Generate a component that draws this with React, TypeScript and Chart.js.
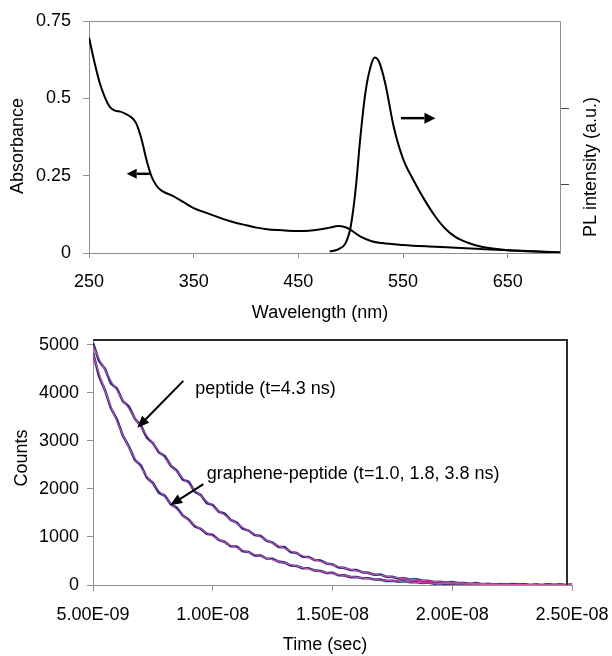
import React, { useEffect, useRef } from 'react';
import { Chart, registerables } from 'chart.js';

Chart.register(...registerables);

// ---------- Top panel: absorbance + PL ----------
const WAVELENGTH_TICKS = [250, 350, 450, 550, 650];
const ABSORBANCE_TICKS = [0, 0.25, 0.5, 0.75];
const PL_TICKS = [0.2205, 0.468];

const ABS_NM = [250, 255, 260, 265, 270, 275, 280, 285, 290, 295, 300, 305, 310, 315, 320, 330, 340, 350, 360, 370, 380, 390, 400, 410, 420, 430, 440, 450, 460, 470, 480, 488, 495, 500, 505, 510, 520, 530, 550, 575, 600, 625, 650, 675, 700];
const ABS_VAL = [0.697, 0.62, 0.553, 0.505, 0.472, 0.46, 0.457, 0.45, 0.44, 0.42, 0.37, 0.3, 0.245, 0.215, 0.2, 0.185, 0.165, 0.145, 0.132, 0.12, 0.108, 0.098, 0.09, 0.082, 0.077, 0.074, 0.072, 0.071, 0.072, 0.076, 0.082, 0.087, 0.083, 0.075, 0.063, 0.052, 0.038, 0.032, 0.026, 0.021, 0.017, 0.013, 0.009, 0.006, 0.002];

const PL_NM = [480, 488, 495, 500, 505, 509, 514, 519, 523, 527, 533, 541, 550, 560, 570, 580, 590, 600, 612, 625, 648, 680, 700];
const PL_VAL = [0.005, 0.012, 0.031, 0.085, 0.214, 0.365, 0.516, 0.602, 0.632, 0.619, 0.549, 0.41, 0.305, 0.235, 0.175, 0.122, 0.08, 0.052, 0.033, 0.02, 0.01, 0.004, 0.002];

// ---------- Bottom panel: fluorescence decay ----------
const TIME_TICKS_NS = [5, 10, 15, 20, 25];
const COUNT_TICKS = [0, 1000, 2000, 3000, 4000, 5000];

const DATA_T_NS = [5, 5.25, 5.5, 5.75, 6, 6.25, 6.5, 6.75, 7, 7.25, 7.5, 7.75, 8, 8.25, 8.5, 8.75, 9, 9.25, 9.5, 9.75, 10, 10.25, 10.5, 10.75, 11, 11.25, 11.5, 11.75, 12, 12.25, 12.5, 12.75, 13, 13.25, 13.5, 13.75, 14, 14.25, 14.5, 14.75, 15, 15.25, 15.5, 15.75, 16, 16.25, 16.5, 16.75, 17, 17.25, 17.5, 17.75, 18, 18.25, 18.5, 18.75, 19, 19.25, 19.5, 19.75, 20, 20.25, 20.5, 20.75, 21, 21.25, 21.5, 21.75, 22, 22.25, 22.5, 22.75, 23, 23.25, 23.5, 23.75, 24, 24.25, 24.5, 24.75, 25];

const PEPTIDE_DATA = [5040, 4664, 4500, 4195, 4088, 3825, 3714, 3458, 3318, 3065, 2955, 2760, 2681, 2482, 2380, 2194, 2146, 1942, 1873, 1705, 1664, 1526, 1484, 1355, 1298, 1172, 1133, 1040, 1021, 921, 882, 793, 788, 686, 668, 588, 584, 520, 510, 449, 428, 366, 355, 312, 310, 265, 252, 214, 218, 172, 169, 136, 141, 114, 117, 93, 90, 64, 66, 50, 59, 41, 42, 26, 39, 17, 25, 9, 22, 10, 21, 8, 13, -2, 7, -1, 12, 1, 7, -5, 12];
const GRAPHENE_DATA = [4835, 4351, 4056, 3678, 3446, 3103, 2881, 2604, 2489, 2232, 2124, 1921, 1856, 1681, 1606, 1444, 1358, 1218, 1168, 1067, 1041, 939, 897, 808, 803, 704, 688, 613, 612, 550, 546, 486, 466, 404, 394, 352, 349, 304, 290, 249, 252, 204, 200, 165, 168, 140, 141, 116, 112, 86, 87, 71, 77, 58, 58, 41, 52, 29, 35, 18, 30, 17, 27, 13, 18, 2, 11, 2, 15, 3, 9, -3, 14, -5, 6, -8, 8, -2, 11, -1, 6];

const FIT_T_NS = [5, 5.5, 6, 6.5, 7, 7.5, 8, 8.5, 9, 9.5, 10, 10.5, 11, 11.5, 12, 12.5, 13, 13.5, 14, 14.5, 15, 15.5, 16, 16.5, 17, 17.5, 18, 18.5, 19, 19.5, 20, 20.5, 21, 21.5, 22, 22.5, 23, 23.5, 24, 24.5, 25];
const PEPTIDE_FIT = [4970, 4480, 4050, 3660, 3290, 2950, 2640, 2360, 2100, 1860, 1640, 1450, 1280, 1130, 995, 870, 760, 660, 570, 490, 418, 353, 296, 246, 203, 165, 133, 106, 84, 65, 50, 38, 29, 22, 16, 12, 8, 6, 4, 3, 2];
const GRAPHENE_FIT = [4800, 4050, 3400, 2860, 2440, 2110, 1830, 1570, 1340, 1165, 1015, 885, 775, 680, 598, 525, 455, 392, 335, 283, 237, 196, 160, 130, 106, 86, 69, 54, 42, 32, 24, 18, 13, 10, 7, 5, 4, 3, 2, 2, 1];

const PEPTIDE_LABEL = 'peptide (t=4.3 ns)';
const GRAPHENE_LABEL = 'graphene-peptide (t=1.0, 1.8, 3.8 ns)';

const FONT = '"Liberation Sans", Arial, Helvetica, sans-serif';
const AXIS_GRAY = '#8f8f8f';

Chart.defaults.font.family = FONT;
Chart.defaults.font.size = 18;
Chart.defaults.color = '#000';

function pts(xs: number[], ys: number[]) {
  return xs.map((x, i) => ({ x, y: ys[i] }));
}

function drawArrow(ctx: CanvasRenderingContext2D, x1: number, y1: number, x2: number, y2: number, len: number, half: number, lw: number) {
  const ang = Math.atan2(y2 - y1, x2 - x1);
  const bx = x2 - len * Math.cos(ang);
  const by = y2 - len * Math.sin(ang);
  ctx.beginPath();
  ctx.moveTo(x1, y1);
  ctx.lineTo(bx, by);
  ctx.lineWidth = lw;
  ctx.strokeStyle = '#000';
  ctx.stroke();
  ctx.beginPath();
  ctx.moveTo(x2, y2);
  ctx.lineTo(bx + half * Math.sin(ang), by - half * Math.cos(ang));
  ctx.lineTo(bx - half * Math.sin(ang), by + half * Math.cos(ang));
  ctx.closePath();
  ctx.fillStyle = '#000';
  ctx.fill();
}

function vText(ctx: CanvasRenderingContext2D, s: string, cx: number, cy: number) {
  ctx.save();
  ctx.translate(cx, cy);
  ctx.rotate(-Math.PI / 2);
  ctx.textAlign = 'center';
  ctx.textBaseline = 'middle';
  ctx.fillText(s, 0, 0);
  ctx.restore();
}

function fmtSec(v: number) {
  const s = (v * 1e-9).toExponential(2);
  const [m, e] = s.split('e');
  const n = parseInt(e, 10);
  return m + 'E' + (n < 0 ? '-' : '+') + String(Math.abs(n)).padStart(2, '0');
}

const topDecor = {
  id: 'topDecor',
  afterDraw(chart: any) {
    const { ctx, chartArea: a, scales } = chart;
    const x = scales.x;
    const y = scales.y;
    ctx.save();
    ctx.strokeStyle = AXIS_GRAY;
    ctx.lineWidth = 1;
    ctx.beginPath();
    ctx.moveTo(a.left, a.top + 0.5);
    ctx.lineTo(a.right, a.top + 0.5);
    ctx.stroke();
    drawArrow(ctx, x.getPixelForValue(308), y.getPixelForValue(0.256), x.getPixelForValue(286), y.getPixelForValue(0.256), 10, 5, 2.5);
    drawArrow(ctx, x.getPixelForValue(548), y.getPixelForValue(0.436), x.getPixelForValue(581), y.getPixelForValue(0.436), 11, 5.5, 2.5);
    ctx.fillStyle = '#000';
    ctx.font = '18px ' + FONT;
    vText(ctx, 'Absorbance', 18, 146);
    vText(ctx, 'PL intensity (a.u.)', 591, 167);
    ctx.textAlign = 'center';
    ctx.textBaseline = 'middle';
    ctx.fillText('Wavelength (nm)', 320, 313);
    ctx.restore();
  },
};

const bottomDecor = {
  id: 'bottomDecor',
  afterDraw(chart: any) {
    const { ctx, chartArea: a, scales } = chart;
    const x = scales.x;
    const y = scales.y;
    ctx.save();
    ctx.strokeStyle = '#2a2a2a';
    ctx.lineWidth = 2;
    const r = a.right - 5;
    ctx.beginPath();
    ctx.moveTo(a.left, a.top);
    ctx.lineTo(r, a.top);
    ctx.lineTo(r, a.bottom);
    ctx.stroke();
    drawArrow(ctx, x.getPixelForValue(8.77), y.getPixelForValue(4250), x.getPixelForValue(6.85), y.getPixelForValue(3271), 12, 5, 2);
    drawArrow(ctx, x.getPixelForValue(9.61), y.getPixelForValue(2098), x.getPixelForValue(8.22), y.getPixelForValue(1660), 12, 5, 2);
    ctx.fillStyle = '#000';
    ctx.font = '18px ' + FONT;
    ctx.textAlign = 'left';
    ctx.textBaseline = 'middle';
    ctx.fillText(PEPTIDE_LABEL, x.getPixelForValue(9.27), y.getPixelForValue(4083));
    ctx.fillText(GRAPHENE_LABEL, x.getPixelForValue(9.75), y.getPixelForValue(2312));
    vText(ctx, 'Counts', 22, 128);
    ctx.textAlign = 'center';
    ctx.fillText('Time (sec)', 325, 315);
    ctx.restore();
  },
};

function fixedTicks(list: number[]) {
  return (s: any) => {
    s.ticks = list.map((v) => ({ value: v }));
  };
}

export default function App() {
  const topRef = useRef<HTMLCanvasElement | null>(null);
  const botRef = useRef<HTMLCanvasElement | null>(null);

  useEffect(() => {
    const top = new Chart(topRef.current as HTMLCanvasElement, {
      type: 'line',
      data: {
        datasets: [
          {
            data: pts(ABS_NM, ABS_VAL),
            yAxisID: 'y',
            borderColor: '#000',
            borderWidth: 2,
            pointRadius: 0,
            cubicInterpolationMode: 'monotone',
          },
          {
            data: pts(PL_NM, PL_VAL),
            yAxisID: 'y2',
            borderColor: '#000',
            borderWidth: 2,
            pointRadius: 0,
            cubicInterpolationMode: 'monotone',
          },
        ],
      },
      options: {
        animation: false,
        responsive: false,
        devicePixelRatio: 1,
        layout: { autoPadding: false, padding: { top: 21, left: 0, right: 0, bottom: 0 } },
        plugins: { legend: { display: false }, tooltip: { enabled: false } },
        events: [],
        scales: {
          x: {
            type: 'linear',
            min: 250,
            max: 700,
            afterBuildTicks: fixedTicks(WAVELENGTH_TICKS),
            afterFit: (s: any) => {
              s.height = 77;
              s.paddingLeft = 0;
              s.paddingRight = 0;
            },
            grid: { drawOnChartArea: false, drawTicks: true, tickLength: 5, color: AXIS_GRAY },
            border: { color: AXIS_GRAY, width: 1 },
            ticks: { padding: 13, color: '#000', font: { size: 18 }, maxRotation: 0, autoSkip: false, callback: (v: any) => String(v) },
          },
          y: {
            position: 'left',
            min: 0,
            max: 0.75,
            afterBuildTicks: fixedTicks(ABSORBANCE_TICKS),
            afterFit: (s: any) => {
              s.width = 89;
              s.paddingTop = 0;
              s.paddingBottom = 0;
            },
            grid: { drawOnChartArea: false, drawTicks: true, tickLength: 6, color: AXIS_GRAY },
            border: { color: AXIS_GRAY, width: 1 },
            ticks: { padding: 12, color: '#000', font: { size: 18 }, callback: (v: any) => String(v) },
          },
          y2: {
            position: 'right',
            min: 0,
            max: 0.75,
            afterBuildTicks: fixedTicks(PL_TICKS),
            afterFit: (s: any) => {
              s.width = 52;
              s.paddingTop = 0;
              s.paddingBottom = 0;
            },
            grid: { drawOnChartArea: false, drawTicks: true, tickLength: 9, color: '#444' },
            border: { color: AXIS_GRAY, width: 1 },
            ticks: { display: false },
          },
        },
      },
      plugins: [topDecor],
    } as any);

    const bottom = new Chart(botRef.current as HTMLCanvasElement, {
      type: 'line',
      data: {
        datasets: [
          {
            data: pts(FIT_T_NS, PEPTIDE_FIT),
            borderColor: '#e0559e',
            borderWidth: 1,
            pointRadius: 0,
            cubicInterpolationMode: 'monotone',
          },
          {
            data: pts(FIT_T_NS, GRAPHENE_FIT),
            borderColor: '#e0559e',
            borderWidth: 1,
            pointRadius: 0,
            cubicInterpolationMode: 'monotone',
          },
          {
            data: pts(DATA_T_NS, PEPTIDE_DATA),
            borderColor: '#32328a',
            borderWidth: 2.6,
            pointRadius: 0,
            tension: 0,
          },
          {
            data: pts(DATA_T_NS, GRAPHENE_DATA),
            borderColor: '#32328a',
            borderWidth: 2.6,
            pointRadius: 0,
            tension: 0,
          },
        ],
      },
      options: {
        animation: false,
        responsive: false,
        devicePixelRatio: 1,
        layout: { autoPadding: false, padding: { top: 10, left: 0, right: 40, bottom: 0 } },
        plugins: { legend: { display: false }, tooltip: { enabled: false } },
        events: [],
        scales: {
          x: {
            type: 'linear',
            min: 5,
            max: 25,
            afterBuildTicks: fixedTicks(TIME_TICKS_NS),
            afterFit: (s: any) => {
              s.height = 71;
              s.paddingLeft = 0;
              s.paddingRight = 0;
            },
            grid: { drawOnChartArea: false, drawTicks: true, tickLength: 6, color: AXIS_GRAY },
            border: { color: AXIS_GRAY, width: 1 },
            ticks: { padding: 13, color: '#000', font: { size: 18 }, maxRotation: 0, autoSkip: false, callback: (v: any) => fmtSec(v) },
          },
          y: {
            position: 'left',
            min: 0,
            max: 5100,
            afterBuildTicks: fixedTicks(COUNT_TICKS),
            afterFit: (s: any) => {
              s.width = 93;
              s.paddingTop = 0;
              s.paddingBottom = 0;
            },
            grid: { drawOnChartArea: false, drawTicks: true, tickLength: 6, color: AXIS_GRAY },
            border: { color: AXIS_GRAY, width: 1 },
            ticks: { padding: 8, color: '#000', font: { size: 18 }, callback: (v: any) => String(v) },
          },
        },
      },
      plugins: [bottomDecor],
    } as any);

    return () => {
      top.destroy();
      bottom.destroy();
    };
  }, []);

  return (
    <div style={{ position: 'absolute', left: 0, top: 0, width: 612, height: 656, background: '#fff' }}>
      <canvas ref={topRef} width={612} height={330} style={{ position: 'absolute', left: 0, top: 0, width: 612, height: 330 }} />
      <canvas ref={botRef} width={612} height={326} style={{ position: 'absolute', left: 0, top: 330, width: 612, height: 326 }} />
    </div>
  );
}
